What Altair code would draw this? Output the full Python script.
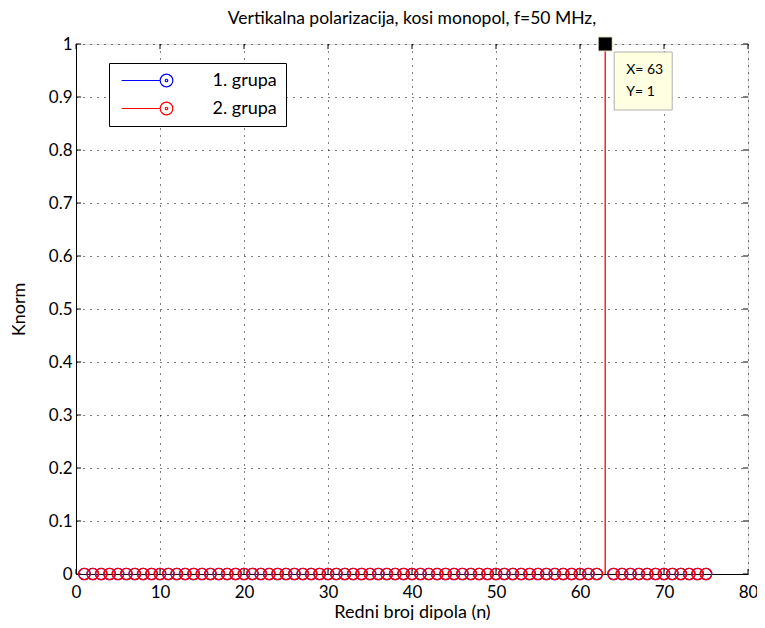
import altair as alt
import pandas as pd

# ---- data ----
n_red = [1, 2, 3, 4, 5, 6, 7, 8, 9, 10, 11, 12, 13, 14, 15, 16, 17, 18, 19, 20,
         21, 22, 23, 24, 25, 26, 27, 28, 29, 30, 31, 32, 33, 34, 35, 36, 37, 38, 39, 40,
         41, 42, 43, 44, 45, 46, 47, 48, 49, 50, 51, 52, 53, 54, 55, 56, 57, 58, 59, 60,
         61, 62, 63, 64, 65, 66, 67, 68, 69, 70, 71, 72, 73, 74, 75]
k_red = [0, 0, 0, 0, 0, 0, 0, 0, 0, 0, 0, 0, 0, 0, 0, 0, 0, 0, 0, 0,
         0, 0, 0, 0, 0, 0, 0, 0, 0, 0, 0, 0, 0, 0, 0, 0, 0, 0, 0, 0,
         0, 0, 0, 0, 0, 0, 0, 0, 0, 0, 0, 0, 0, 0, 0, 0, 0, 0, 0, 0,
         0, 0, 1, 0, 0, 0, 0, 0, 0, 0, 0, 0, 0, 0, 0]
n_blue = [1, 2, 3, 4, 5, 6, 7, 8, 9, 10, 11, 12, 13, 14, 15, 16, 17, 18, 19, 20,
          21, 22, 23, 24, 25, 26, 27, 28, 29, 30, 31, 32, 33, 34, 35, 36, 37, 38, 39, 40,
          41, 42, 43, 44, 45, 46, 47, 48, 49, 50, 51, 52, 53, 54, 55, 56, 57, 58, 59, 60,
          61, 62, 64, 65, 66, 67, 68, 69, 70, 71, 72, 73, 74, 75]
k_blue = [0, 0, 0, 0, 0, 0, 0, 0, 0, 0, 0, 0, 0, 0, 0, 0, 0, 0, 0, 0,
          0, 0, 0, 0, 0, 0, 0, 0, 0, 0, 0, 0, 0, 0, 0, 0, 0, 0, 0, 0,
          0, 0, 0, 0, 0, 0, 0, 0, 0, 0, 0, 0, 0, 0, 0, 0, 0, 0, 0, 0,
          0, 0, 0, 0, 0, 0, 0, 0, 0, 0, 0, 0, 0, 0]
groups = ["1. grupa", "2. grupa"]
colors = ["#0000FF", "#FF0000"]
x_ticks = [0, 10, 20, 30, 40, 50, 60, 70, 80]
y_ticks = [0, 0.1, 0.2, 0.3, 0.4, 0.5, 0.6, 0.7, 0.8, 0.9, 1]
tip_x = [63]
tip_y = [1]

FONT = "Lato"

df = pd.concat([
    pd.DataFrame({"n": n_blue, "k": k_blue, "grupa": groups[0], "order": 0}),
    pd.DataFrame({"n": n_red, "k": k_red, "grupa": groups[1], "order": 1}),
], ignore_index=True)
tip = pd.DataFrame({"n": tip_x, "k": tip_y,
                    "lx": [f"X= {v}" for v in tip_x], "ly": [f"Y= {v}" for v in tip_y]})
xt = pd.DataFrame({"t": x_ticks, "lo": 0, "hi": 1})
yt = pd.DataFrame({"t": y_ticks, "lo": 0, "hi": 80})

xs = alt.Scale(domain=[0, 80], nice=False, zero=False)
ys = alt.Scale(domain=[0, 1], nice=False)
xax = alt.Axis(values=x_ticks, grid=True, gridDash=[1, 6], gridColor="black", gridOpacity=1,
               ticks=False, labelFontSize=17, labelPadding=10, labelFont=FONT, labelFlush=False,
               title="Redni broj dipola (n)", titleFontSize=18, titleFontWeight="normal",
               titleFont=FONT, titlePadding=3, domainColor="black", labelColor="black",
               titleColor="black")
yax = alt.Axis(values=y_ticks, grid=True, gridDash=[1, 6], gridColor="black", gridOpacity=1,
               ticks=False, labelFontSize=17, labelPadding=4, labelFont=FONT, format="~g",
               labelFlush=False,
               title="Knorm", titleFontSize=18, titleFontWeight="normal", titleFont=FONT,
               titlePadding=20, domainColor="black", labelColor="black", titleColor="black")

legend_path = ("M-7.1,0 L-1,0 M-1,0 A1,1 0 1,0 1,0 A1,1 0 1,0 -1,0 "
               "M-0.2,0 A0.2,0.2 0 1,0 0.2,0 A0.2,0.2 0 1,0 -0.2,0")
color = alt.Color("grupa:N", scale=alt.Scale(domain=groups, range=colors),
                  legend=alt.Legend(title=None, orient="none", legendX=33, legendY=19,
                                    symbolType=legend_path, symbolSize=160,
                                    symbolStrokeWidth=1.2, labelFontSize=18, labelFont=FONT,
                                    labelColor="black", labelOffset=37, rowPadding=10,
                                    padding=8.5, strokeColor="black", fillColor="white",
                                    symbolOffset=40,
                                    labelExpr="datum.label + '\u00a0\u00a0\u00a0\u00a0\u00a0'"))

stems = alt.Chart(df).mark_rule(strokeWidth=1.3).encode(
    x=alt.X("n:Q", scale=xs, axis=xax),
    y=alt.Y("k:Q", scale=ys, axis=yax),
    y2=alt.datum(0),
    color=color,
)
points = alt.Chart(df).mark_point(shape="circle", filled=False, size=130, strokeWidth=1.3,
                                  opacity=1).encode(
    x="n:Q", y="k:Q", color=color, order="order:Q")

# inward axis ticks on all four sides
tick_b = alt.Chart(xt).mark_tick(orient="vertical", size=5, thickness=1, color="black",
                                 yOffset=-2.5, opacity=1).encode(x="t:Q", y="lo:Q")
tick_t = alt.Chart(xt).mark_tick(orient="vertical", size=5, thickness=1, color="black",
                                 yOffset=2.5, opacity=1).encode(x="t:Q", y="hi:Q")
tick_l = alt.Chart(yt).mark_tick(orient="horizontal", size=5, thickness=1, color="black",
                                 xOffset=2.5, opacity=1).encode(y="t:Q", x="lo:Q")
tick_r = alt.Chart(yt).mark_tick(orient="horizontal", size=5, thickness=1, color="black",
                                 xOffset=-2.5, opacity=1).encode(y="t:Q", x="hi:Q")

square = alt.Chart(tip).mark_square(size=200, color="black", filled=True, opacity=1,
                                   stroke="#f4f4d8", strokeWidth=1).encode(x="n:Q", y="k:Q")
box = alt.Chart(tip).mark_rect(width=58, height=58, xOffset=38, yOffset=37,
                               fill="#FFFFE1", stroke="#b0b0b0", strokeWidth=1).encode(
    x="n:Q", y="k:Q")
tx = alt.Chart(tip).mark_text(align="left", baseline="middle", dx=21, dy=26, fontSize=14,
                              font=FONT, color="black").encode(x="n:Q", y="k:Q", text="lx:N")
ty = alt.Chart(tip).mark_text(align="left", baseline="middle", dx=21, dy=48, fontSize=14,
                              font=FONT, color="black").encode(x="n:Q", y="k:Q", text="ly:N")

chart = alt.layer(stems, tick_b, tick_t, tick_l, tick_r, points, box, square, tx, ty).properties(
    width=672, height=530,
    title=alt.Title("Vertikalna polarizacija, kosi monopol, f=50 MHz,", fontSize=17.5,
                    fontWeight="normal", font=FONT, color="black", offset=7),
    autosize=alt.AutoSizeParams(type="none"),
    padding={"left": 68, "top": 36, "right": 9, "bottom": 46},
).configure_view(stroke="black", strokeWidth=1).configure(background="white")

chart.save("out.html", embed_options={"renderer": "svg", "actions": False})
